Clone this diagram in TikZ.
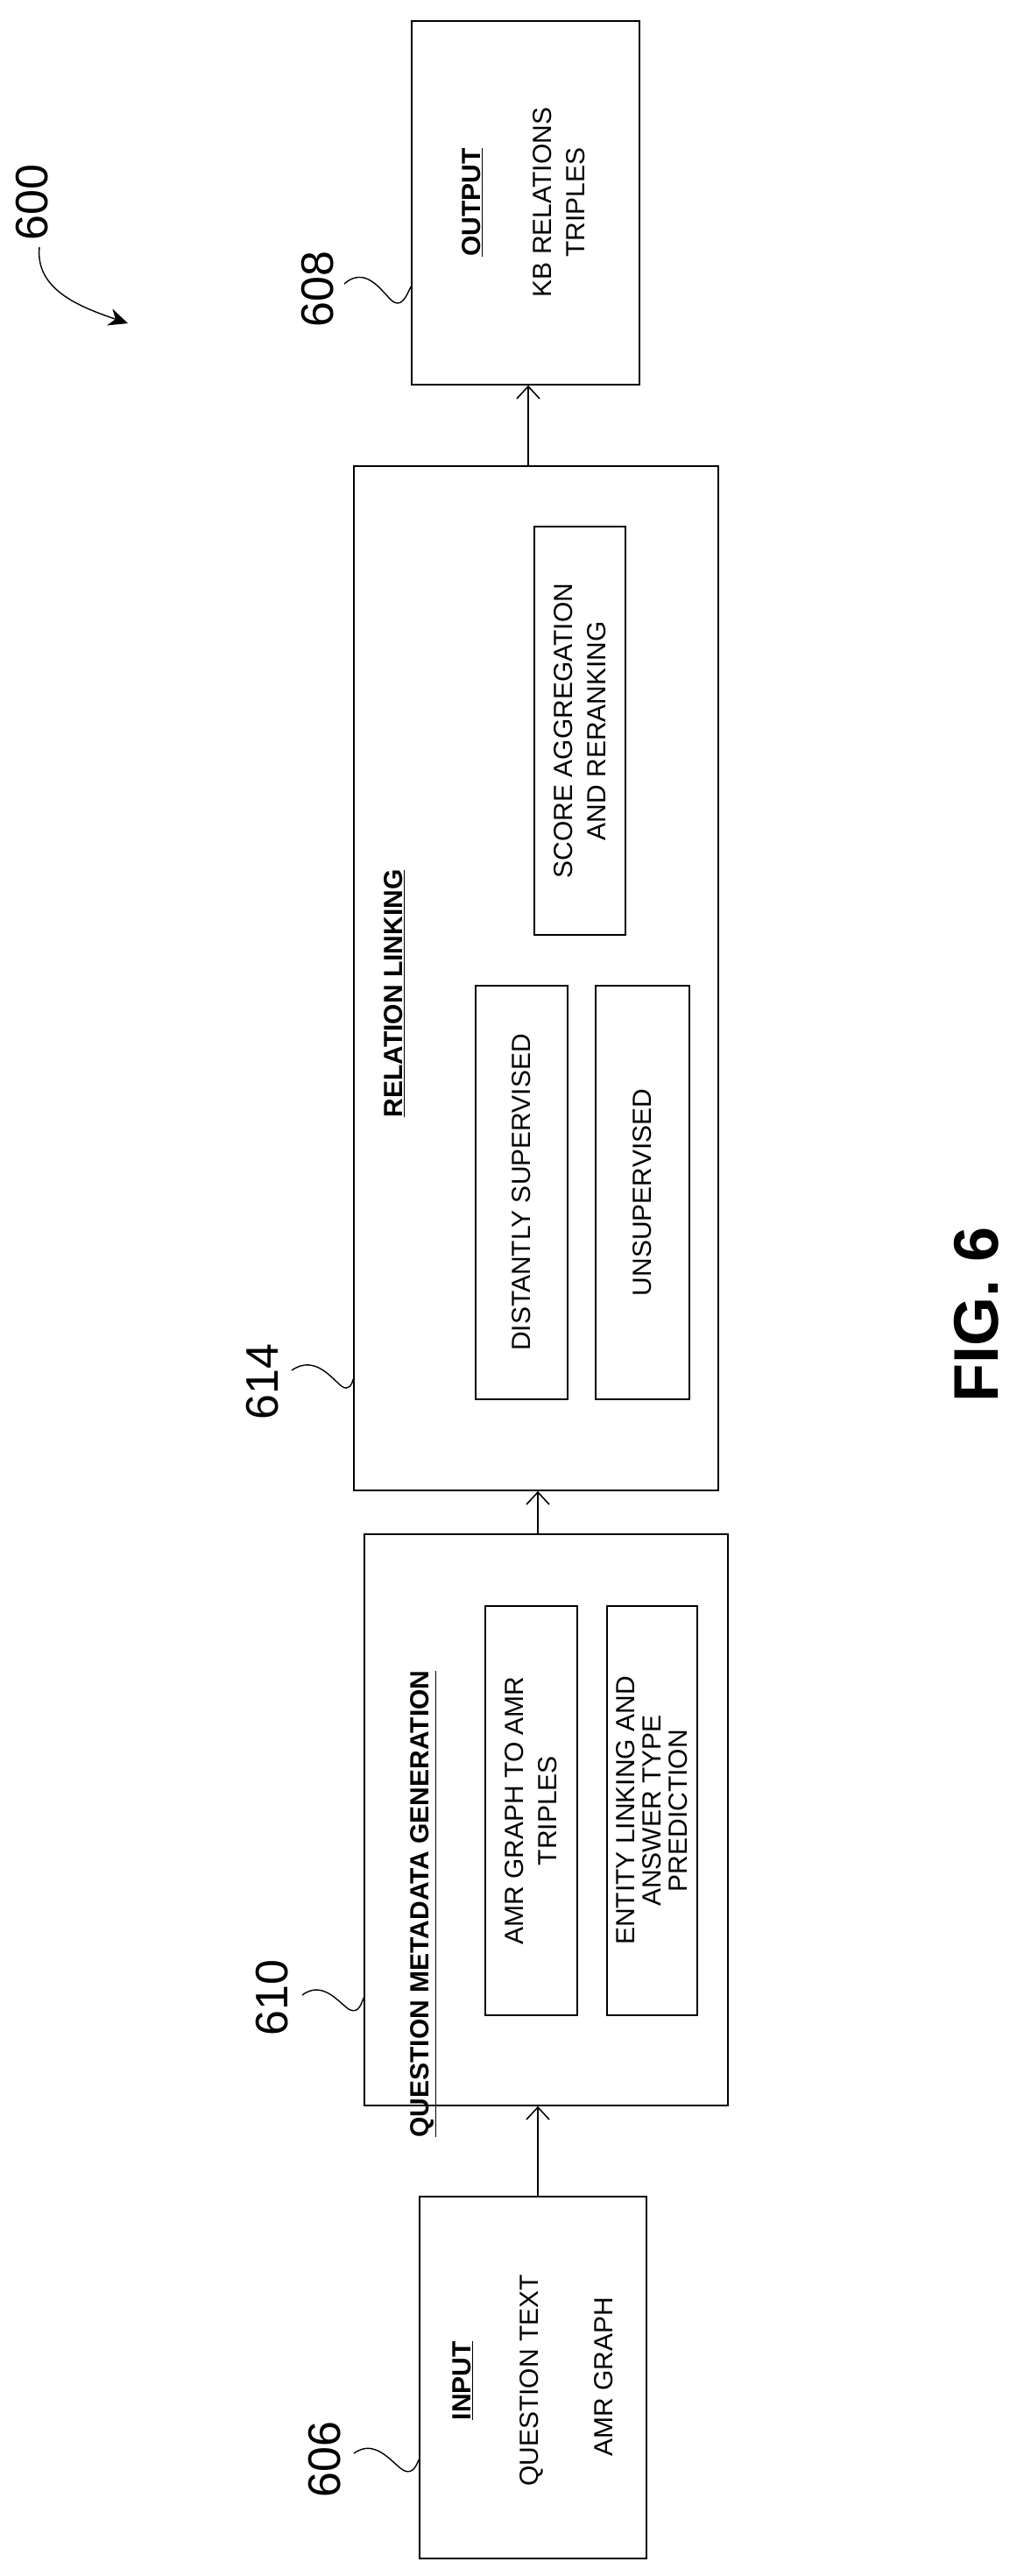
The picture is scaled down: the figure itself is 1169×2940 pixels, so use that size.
\documentclass[tikz,border=0pt]{standalone}
\usepackage{fontspec}
\setmainfont{Liberation Sans}
\usetikzlibrary{arrows.meta}

\tikzset{
  box/.style={draw, line width=1.6pt, inner sep=0pt},
  txt/.style={rotate=90, font=\fontsize{30}{38}\selectfont, align=center},
  head/.style={txt, font=\fontsize{30}{38}\selectfont\bfseries},
  refnum/.style={rotate=90, font=\fontsize{52}{60}\selectfont},
  squig/.style={line width=1.4pt},
  arr/.style={line width=1.6pt, -{Straight Barb[length=14pt,width=26pt,line width=1.6pt]}}
}

\begin{document}
\begin{tikzpicture}[x=1pt, y=-1pt]
    \useasboundingbox (0,0) rectangle (1169,2940);
    % outer boxes
    \node[box, minimum width=260pt, minimum height=415pt] (out) at (600,231.5) {};
    \node[box, minimum width=416pt, minimum height=1169pt] (rel) at (612,1116.5) {};
    \node[box, minimum width=415pt, minimum height=652pt] (qmg) at (623.5,2077) {};
    \node[box, minimum width=259pt, minimum height=413pt] (inp) at (608.5,2713.5) {};
    % inner boxes
    \node[box, minimum width=104pt, minimum height=466pt] (score) at (662,834) {};
    \node[box, minimum width=105pt, minimum height=472pt] (dist) at (595.5,1361) {};
    \node[box, minimum width=107pt, minimum height=472pt] (unsup) at (733.5,1361) {};
    \node[box, minimum width=105pt, minimum height=467pt] (amr) at (606.5,2066.5) {};
    \node[box, minimum width=103pt, minimum height=467pt] (ent) at (744.5,2066.5) {};

    % texts
    \node[head] (outh) at (539,231) {\underline{OUTPUT}};
    \node[txt] (outt) at (638,231) {KB RELATIONS\\TRIPLES};
    \node[head] (relh) at (450,1134) {\underline{RELATION LINKING}};
    \node[txt] (scoret) at (score) {SCORE AGGREGATION\\AND RERANKING};
    \node[txt] (distt) at (dist) {DISTANTLY SUPERVISED};
    \node[txt] (unsupt) at (unsup) {UNSUPERVISED};
    \node[head] (qmgh) at (483,2173) {\underline{QUESTION METADATA GENERATION}};
    \node[txt] (amrt) at (amr) {AMR GRAPH TO AMR\\TRIPLES};
    \node[txt, font=\fontsize{30}{30}\selectfont] (entt) at (ent) {ENTITY LINKING AND\\ANSWER TYPE\\PREDICTION};
    \node[head] (inph) at (528,2717) {\underline{INPUT}};
    \node[txt] (inpq) at (607,2717) {QUESTION TEXT};
    \node[txt] (inpa) at (689,2713) {AMR GRAPH};
    \node[rotate=90, font=\fontsize{72}{80}\selectfont\bfseries] (fig) at (1115,1500) {FIG. 6};

    % arrows
    \draw[arr] (rel.north -| 603,0) -- (out.south -| 603,0);
    \draw[arr] (qmg.north -| 614,0) -- (rel.south -| 614,0);
    \draw[arr] (inp.north -| 614,0) -- (qmg.south -| 614,0);

    % reference numerals
    \node[refnum] (n600) at (37,231) {600};
    \node[refnum] (n608) at (363,330) {608};
    \node[refnum] (n614) at (300,1577) {614};
    \node[refnum] (n610) at (311,2280) {610};
    \node[refnum] (n606) at (371,2807) {606};
    \coordinate (a600) at (45,282);
    \coordinate (b600) at (146,369);
    \draw[line width=1.4pt, -{Stealth[length=22pt,width=20pt]}] (a600) .. controls (40,330) and (90,350) .. (b600);
    \draw[squig] (393,324) .. controls (420,300) and (440,340) .. (450,345) .. controls (460,350) and (465,335) .. (out.west |- 0,327);
    \draw[squig] (333,1564) .. controls (360,1545) and (380,1575) .. (390,1582) .. controls (398,1588) and (402,1580) .. (rel.west |- 0,1574);
    \draw[squig] (345,2277) .. controls (370,2258) and (390,2290) .. (400,2294) .. controls (410,2298) and (413,2285) .. (qmg.west |- 0,2280);
    \draw[squig] (404,2800) .. controls (430,2781) and (450,2815) .. (462,2820) .. controls (472,2824) and (476,2812) .. (inp.west |- 0,2807);
\end{tikzpicture}
\end{document}
